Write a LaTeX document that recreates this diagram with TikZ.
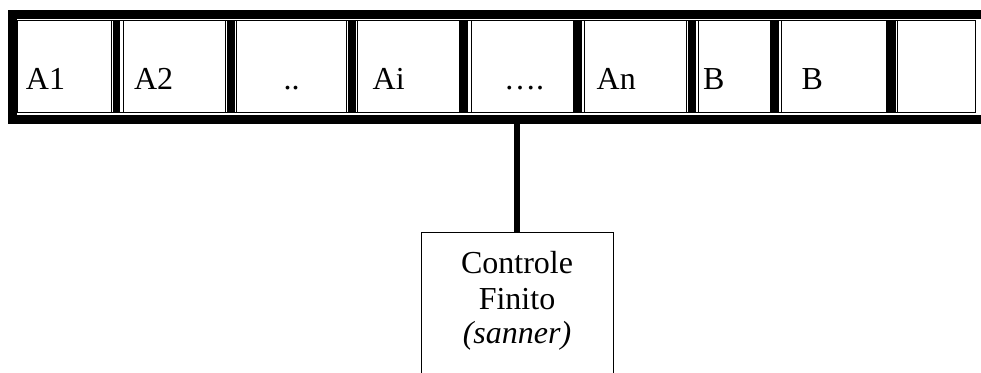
\documentclass[tikz,border=0pt]{standalone}
\usepackage{fontspec}
\setmainfont{Liberation Serif}
\begin{document}
\begin{tikzpicture}[x=0.75pt,y=-0.75pt,
  thin/.style={line width=0.75pt},
  cell/.style={draw,thin,rectangle,inner sep=0pt,outer sep=0pt,minimum height=69pt},
  bar/.style={fill=black},
  lbl/.style={inner sep=0pt,outer sep=0pt,font=\fontsize{24}{27.6}\selectfont}]
\useasboundingbox (0,0) rectangle (981,372);
\clip (0,0) rectangle (981,372);
\fill[white] (0,0) rectangle (981,372);

% outer thick frame of the tape
\node[draw,line width=6.75pt,rectangle,inner sep=0pt,outer sep=0pt,
      minimum width=730.5pt,minimum height=78.75pt] (tape) at (499,67) {};

% thin inner frame
\draw[thin] (17.5,20.7) rectangle (975,112.7);

% cells (left edge, right edge)
\node[cell,minimum width={(111.7-17.5)*0.75pt}] (c1) at ({(17.5+111.7)/2},66.7) {};
\node[cell,minimum width={(225.7-123)*0.75pt}] (c2) at ({(123+225.7)/2},66.7) {};
\node[cell,minimum width={(346-236)*0.75pt}] (c3) at ({(236+346)/2},66.7) {};
\node[cell,minimum width={(459-357.3)*0.75pt}] (c4) at ({(357.3+459)/2},66.7) {};
\node[cell,minimum width={(573-471)*0.75pt}] (c5) at ({(471+573)/2},66.7) {};
\node[cell,minimum width={(686.7-584)*0.75pt}] (c6) at ({(584+686.7)/2},66.7) {};
\node[cell,minimum width={(770-698)*0.75pt}] (c7) at ({(698+770)/2},66.7) {};
\node[cell,minimum width={(886-781)*0.75pt}] (c8) at ({(781+886)/2},66.7) {};
\node[cell,minimum width={(975-897)*0.75pt}] (c9) at ({(897+975)/2},66.7) {};

% thick separators between cells
\foreach \a/\b in {112.6/120.4,226.6/235.4,347.6/356.4,459.8/468.4,573.8/582.4,687.6/695.6,771/778.6,887/896.4}
  \fill[bar] (\a,21) rectangle (\b,112.5);

% cell contents
\node[lbl,anchor=base west] (t1) at (26,89) {A1};
\node[lbl,anchor=base west] (t2) at (134,89) {A2};
\node[lbl,anchor=base] (t3) at (291.5,89) {..};
\node[lbl,anchor=base west] (t4) at (372.7,89) {Ai};
\node[lbl,anchor=base] (t5) at (524,89) {….};
\node[lbl,anchor=base west] (t6) at (596.7,89) {An};
\node[lbl,anchor=base west] (t7) at (703,89) {B};
\node[lbl,anchor=base west] (t8) at (801.7,89) {B};

% finite control box
\node[draw,thin,rectangle,inner sep=0pt,outer sep=0pt,
      minimum width=144pt,minimum height=141pt] (ctrl) at (517,326) {};
\node[lbl,anchor=base] (k1) at (517,273) {Controle};
\node[lbl,anchor=base] (k2) at (517,309) {Finito};
\node[lbl,anchor=base] (k3) at (517,343) {\itshape(sanner)};

% read head link
\draw[line width=4.5pt] (ctrl.north) -- (ctrl.north |- tape.south);
\end{tikzpicture}
\end{document}
